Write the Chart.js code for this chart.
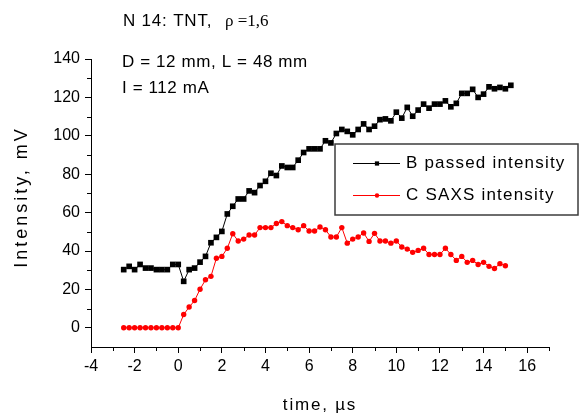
<!DOCTYPE html>
<html>
<head>
<meta charset="utf-8">
<script src="https://cdn.jsdelivr.net/npm/chart.js@4.4.1/dist/chart.umd.min.js"></script>
<style>
  html, body { margin: 0; padding: 0; background: #fff; }
  #wrap { width: 583px; height: 414px; }
</style>
</head>
<body>
<div id="wrap"><canvas id="chart" width="583" height="414"></canvas></div>
<script>
// Sampling times, µs
const time = [-2.5, -2.25, -2, -1.75, -1.5, -1.25, -1, -0.75, -0.5, -0.25,
  0, 0.25, 0.5, 0.75, 1, 1.25, 1.5, 1.75, 2, 2.25,
  2.5, 2.75, 3, 3.25, 3.5, 3.75, 4, 4.25, 4.5, 4.75,
  5, 5.25, 5.5, 5.75, 6, 6.25, 6.5, 6.75, 7, 7.25,
  7.5, 7.75, 8, 8.25, 8.5, 8.75, 9, 9.25, 9.5, 9.75,
  10, 10.25, 10.5, 10.75, 11, 11.25, 11.5, 11.75, 12, 12.25,
  12.5, 12.75, 13, 13.25, 13.5, 13.75, 14, 14.25, 14.5, 14.75,
  15, 15.25];

// B: passed intensity, mV (one value per time sample)
const passedIntensity = [30.3, 32, 30.3, 33, 31.1, 31.1, 30.3, 30.3, 30.3, 33,
  33, 24.2, 30.3, 31.1, 34.2, 37.2, 44.3, 47.1, 50.2, 59.3,
  63.3, 67.1, 67.1, 71.3, 70.4, 74.1, 76.3, 80.5, 79.3, 84.3,
  83.5, 83.5, 87.3, 91.3, 93.2, 93.2, 93.2, 97.4, 96.3, 101.2,
  103.3, 102.3, 100.5, 103.3, 106.2, 103.3, 105, 108.4, 108.8, 107.8,
  112.3, 109.2, 114.8, 110.2, 113.4, 116.5, 114.4, 116.5, 116.5, 118.2,
  115.1, 116.9, 122.1, 122.1, 124.2, 120, 121.7, 125.5, 124.5, 125.2,
  124.5, 126.3];

// C: SAXS intensity, mV (ends one sample earlier, at 15 µs)
const saxsIntensity = [0, 0, 0, 0, 0, 0, 0, 0, 0, 0,
  0, 6.9, 10.8, 14.2, 20.1, 25, 26.8, 36.2, 37.2, 41.4,
  49, 45.2, 46.2, 48.3, 48.3, 52.2, 52.2, 52.2, 54.3, 55.3,
  53.2, 52.2, 51.1, 53.2, 50.4, 50.4, 52.5, 51.1, 47.3, 47.3,
  52.2, 44.1, 46.2, 47.3, 49.4, 45, 49.2, 45.2, 45.2, 44.1,
  45.2, 42.1, 41, 39.3, 40.3, 41.4, 38.2, 38.2, 38.2, 41.4,
  38.2, 35.1, 37.2, 34.1, 35.1, 33, 34.1, 32, 30.9, 33.4,
  32.3];

const seriesLabels = ['B passed intensity', 'C SAXS intensity'];

const xTicks = [-4, -2, 0, 2, 4, 6, 8, 10, 12, 14, 16];
const xMinorTicks = [-3, -1, 1, 3, 5, 7, 9, 11, 13, 15, 17];
const yTicks = [0, 20, 40, 60, 80, 100, 120, 140];
const yMinorTicks = [10, 30, 50, 70, 90, 110, 130];

const xTitle = 'time, \u00b5s';
const yTitle = 'Intensity, mV';

const toPoints = (xs, ys) => ys.map((y, i) => ({ x: xs[i], y }));

const SANS = '"Liberation Sans", Arial, sans-serif';
const SERIF = '"Liberation Serif", "Times New Roman", serif';

// Draws minor ticks, the sample notes, axis titles and the framed legend
const decorPlugin = {
  id: 'decor',
  afterDraw(chart) {
    const { ctx, chartArea: area, scales } = chart;
    const xs = scales.x, ys = scales.y;
    ctx.save();

    // minor ticks
    ctx.strokeStyle = '#000';
    ctx.lineWidth = 1;
    ctx.beginPath();
    xMinorTicks.forEach(v => {
      const px = Math.round(xs.getPixelForValue(v)) + 0.5;
      ctx.moveTo(px, area.bottom);
      ctx.lineTo(px, area.bottom + 4);
    });
    yMinorTicks.forEach(v => {
      const py = Math.round(ys.getPixelForValue(v)) + 0.5;
      ctx.moveTo(area.left, py);
      ctx.lineTo(area.left - 4, py);
    });
    ctx.stroke();

    // sample notes
    ctx.fillStyle = '#000';
    ctx.textBaseline = 'middle';
    ctx.textAlign = 'left';
    ctx.letterSpacing = '0.8px';
    ctx.font = '17px ' + SANS;
    ctx.fillText('N 14: TNT,', 123, 21);
    ctx.font = '17px ' + SERIF;
    ctx.letterSpacing = '0px';
    ctx.fillText('\u03c1 =1,6', 225, 22);
    ctx.font = '17px ' + SANS;
    ctx.letterSpacing = '0.6px';
    ctx.fillText('D = 12 mm, L = 48 mm', 122, 62);
    ctx.fillText('I = 112 mA', 122, 88);

    // axis titles
    ctx.letterSpacing = '1.8px';
    ctx.textAlign = 'center';
    ctx.fillText(xTitle, (area.left + area.right) / 2, 405);
    ctx.save();
    ctx.translate(22, 197);
    ctx.rotate(-Math.PI / 2);
    ctx.font = '18px ' + SANS;
    ctx.letterSpacing = '3px';
    ctx.fillText(yTitle, 0, 0);
    ctx.restore();

    // legend
    const box = { left: 335, top: 144, right: 578, bottom: 215 };
    ctx.strokeStyle = '#3c3c3c';
    ctx.lineWidth = 1.5;
    ctx.strokeRect(box.left, box.top, box.right - box.left, box.bottom - box.top);
    const rows = [163, 195];
    ctx.textAlign = 'left';
    ctx.font = '17px ' + SANS;
    ctx.letterSpacing = '1.2px';
    chart.data.datasets.forEach((ds, i) => {
      const y = rows[i];
      ctx.strokeStyle = ds.borderColor;
      ctx.lineWidth = 1;
      ctx.beginPath();
      ctx.moveTo(353, y + 0.5);
      ctx.lineTo(400, y + 0.5);
      ctx.stroke();
      ctx.fillStyle = ds.pointBackgroundColor;
      Chart.helpers.drawPoint(ctx, {
        pointStyle: ds.pointStyle,
        radius: ds.pointStyle === 'rect' ? 3 : 2.2,
        borderWidth: 0,
        rotation: 0
      }, 377, y + 0.5);
      ctx.fillStyle = '#000';
      ctx.fillText(ds.label, 406, y);
    });

    ctx.restore();
  }
};

new Chart(document.getElementById('chart'), {
  type: 'line',
  data: {
    datasets: [
      {
        label: seriesLabels[0],
        data: toPoints(time, passedIntensity),
        borderColor: '#000000',
        backgroundColor: '#000000',
        pointBackgroundColor: '#000000',
        pointBorderColor: '#000000',
        pointStyle: 'rect',
        pointRadius: 4,
        pointBorderWidth: 0,
        borderWidth: 1,
        tension: 0
      },
      {
        label: seriesLabels[1],
        data: toPoints(time, saxsIntensity),
        borderColor: '#ff0000',
        backgroundColor: '#ff0000',
        pointBackgroundColor: '#ff0000',
        pointBorderColor: '#ff0000',
        pointStyle: 'circle',
        pointRadius: 2.7,
        pointBorderWidth: 0,
        borderWidth: 1,
        tension: 0
      }
    ]
  },
  options: {
    responsive: false,
    animation: false,
    devicePixelRatio: 1,
    layout: { padding: { top: 59, right: 34, bottom: 0, left: 0 } },
    plugins: {
      legend: { display: false },
      tooltip: { enabled: false }
    },
    scales: {
      x: {
        type: 'linear',
        min: -4,
        max: 17,
        afterBuildTicks: s => { s.ticks = xTicks.map(v => ({ value: v })); },
        afterFit: s => { s.height = 67; },
        border: { display: true, color: '#000', width: 1 },
        grid: { drawOnChartArea: false, drawTicks: true, tickLength: 6, color: '#000' },
        ticks: {
          color: '#000',
          padding: 4,
          maxRotation: 0,
          font: { family: SANS, size: 16 },
          callback: v => String(v)
        },
        title: { display: false }
      },
      y: {
        type: 'linear',
        min: -10,
        max: 140,
        afterBuildTicks: s => { s.ticks = yTicks.map(v => ({ value: v })); },
        afterFit: s => { s.width = 91; },
        border: { display: true, color: '#000', width: 1 },
        grid: { drawOnChartArea: false, drawTicks: true, tickLength: 6, color: '#000' },
        ticks: {
          color: '#000',
          padding: 5,
          font: { family: SANS, size: 16 },
          callback: v => String(v)
        },
        title: { display: false }
      }
    }
  },
  plugins: [decorPlugin]
});
</script>
</body>
</html>
